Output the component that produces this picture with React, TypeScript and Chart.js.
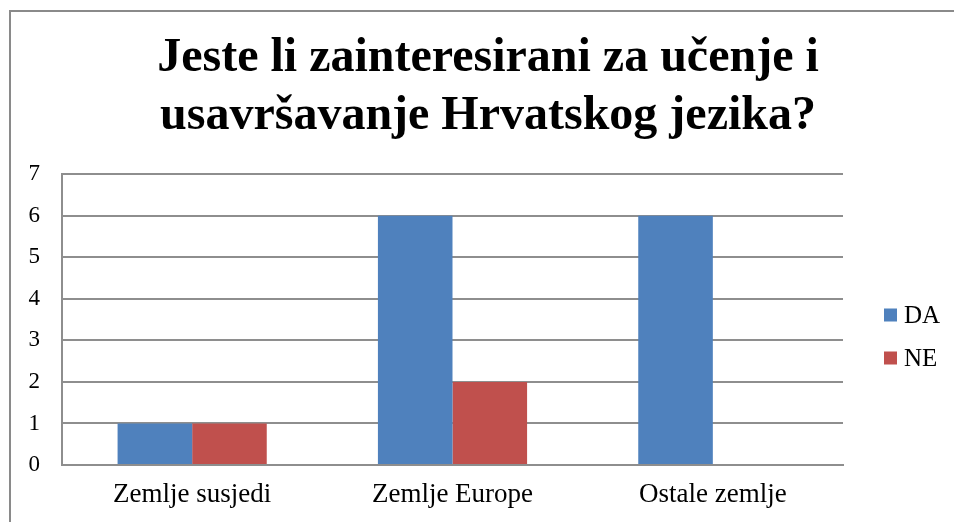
import React, { useEffect, useRef } from "react";
import { Chart, registerables } from "chart.js";

Chart.register(...registerables);

const categories = ["Zemlje susjedi", "Zemlje Europe", "Ostale zemlje"];
const seriesNames = ["DA", "NE"];
const daValues = [1, 6, 6];
const neValues = [1, 2, 0];
const titleLines = ["Jeste li zainteresirani za učenje i", "usavršavanje Hrvatskog jezika?"];
const colors = ["#4F81BD", "#C0504D"];

const FONT = "'Liberation Serif', 'Times New Roman', serif";

const framePlugin = {
  id: "frame",
  afterDraw(chart: any) {
    const ctx = chart.ctx;
    ctx.save();
    ctx.strokeStyle = "#8a8a8a";
    ctx.lineWidth = 2;
    ctx.beginPath();
    ctx.moveTo(10, chart.height);
    ctx.lineTo(10, 11);
    ctx.lineTo(chart.width, 11);
    ctx.stroke();
    ctx.restore();
  },
};

const legendPlugin = {
  id: "customLegend",
  afterDraw(chart: any) {
    const ctx = chart.ctx;
    const area = chart.chartArea;
    ctx.save();
    ctx.font = `25px ${FONT}`;
    ctx.textBaseline = "middle";
    ctx.textAlign = "left";
    const x = area.right + 41;
    const startY = 315;
    const gap = 43;
    chart.data.datasets.forEach((ds: any, i: number) => {
      const y = startY + i * gap;
      ctx.fillStyle = ds.backgroundColor;
      ctx.fillRect(x, y - 6.5, 13, 13);
      ctx.fillStyle = "#000";
      ctx.fillText(ds.label, x + 20, y + 1);
    });
    ctx.restore();
  },
};

export default function App() {
  const ref = useRef<HTMLCanvasElement>(null);
  useEffect(() => {
    if (!ref.current) return;
    const chart = new Chart(ref.current, {
      type: "bar",
      data: {
        labels: categories,
        datasets: [
          { label: seriesNames[0], data: daValues, backgroundColor: colors[0] },
          { label: seriesNames[1], data: neValues, backgroundColor: colors[1] },
        ],
      },
      options: {
        animation: false,
        responsive: true,
        maintainAspectRatio: false,
        layout: { padding: { left: 22, right: 0, top: 0, bottom: 0 } },
        datasets: {
          bar: { categoryPercentage: 0.573, barPercentage: 1 },
        },
        plugins: {
          legend: { display: false },
          tooltip: { enabled: false },
          title: {
            display: true,
            text: titleLines,
            color: "#000",
            font: { family: FONT, size: 48, weight: "bold", lineHeight: 1.2 },
            padding: { top: 30, bottom: 29 },
          },
        },
        scales: {
          x: {
            grid: { display: false, drawTicks: false },
            border: { display: true, color: "#8e8e8e", width: 2 },
            ticks: { color: "#000", font: { family: FONT, size: 27 }, padding: 14, maxRotation: 0 },
            afterFit: (s: any) => { s.height = 57; },
          },
          y: {
            min: 0,
            max: 7,
            grid: { color: "#8e8e8e", lineWidth: 2, drawTicks: false },
            border: { display: true, color: "#8e8e8e", width: 2 },
            ticks: { stepSize: 1, color: "#000", font: { family: FONT, size: 23 }, padding: 22 },
            afterFit: (s: any) => { s.width = 40; },
          },
          legendSpace: {
            type: "linear",
            position: "right",
            display: true,
            grid: { display: false, drawTicks: false },
            border: { display: false },
            ticks: { display: false },
            afterFit: (s: any) => { s.width = 111; },
          },
        },
      },
      plugins: [framePlugin, legendPlugin],
    });
    return () => chart.destroy();
  }, []);
  return (
    <div style={{ position: "fixed", left: 0, top: 0, width: 954, height: 522, background: "#fff" }}>
      <canvas ref={ref} />
    </div>
  );
}
